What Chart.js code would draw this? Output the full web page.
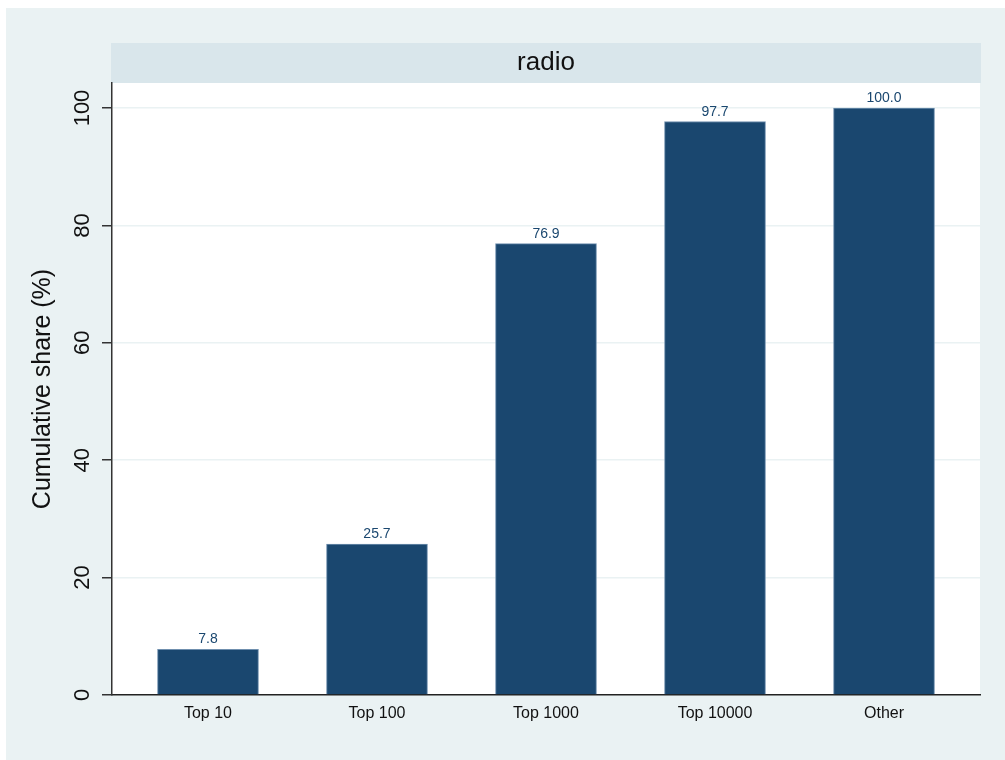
<!DOCTYPE html>
<html>
<head>
<meta charset="utf-8">
<script src="https://cdn.jsdelivr.net/npm/chart.js@4/dist/chart.umd.min.js"></script>
<style>
  html, body { margin: 0; padding: 0; background: #fff; }
  #wrap { width: 1005px; height: 760px; }
</style>
</head>
<body>
<div id="wrap"><canvas id="bars" width="1005" height="760"></canvas></div>
<script>
const categories = ['Top 10', 'Top 100', 'Top 1000', 'Top 10000', 'Other'];
const shares = [7.8, 25.7, 76.9, 97.7, 100.0];
const yTicks = [0, 20, 40, 60, 80, 100];
const panelTitle = 'radio';
const yTitle = 'Cumulative share (%)';

const FONT = '"Liberation Sans", Arial, Helvetica, sans-serif';
const BAR = '#1a476f';

// stata-ish backdrop, title strip, rotated y labels and bar values
const stataLook = {
    id: 'stataLook',
    beforeDraw(chart) {
        const ctx = chart.ctx;
        const a = chart.chartArea;
        ctx.save();
        ctx.fillStyle = '#ffffff';
        ctx.fillRect(0, 0, chart.width, chart.height);
        ctx.fillStyle = '#eaf2f3';
        ctx.fillRect(6, 8, chart.width - 6, chart.height - 8);
        ctx.fillStyle = '#ffffff';
        ctx.fillRect(a.left, a.top, a.right - a.left, a.bottom - a.top);
        ctx.fillStyle = '#d9e6eb';
        ctx.fillRect(a.left - 1, 43, a.right - a.left + 2, a.top - 43);
        ctx.restore();
    },
    afterDraw(chart) {
        const ctx = chart.ctx;
        const a = chart.chartArea;
        const y = chart.scales.y;
        ctx.save();
        // panel title
        ctx.fillStyle = '#111';
        ctx.font = '26px ' + FONT;
        ctx.textAlign = 'center';
        ctx.textBaseline = 'middle';
        ctx.fillText(panelTitle, (a.left + a.right) / 2, 63);

        // y tick labels, rotated
        ctx.font = '22px ' + FONT;
        yTicks.forEach(v => {
            ctx.save();
            ctx.translate(83, y.getPixelForValue(v));
            ctx.rotate(-Math.PI / 2);
            ctx.fillText(String(v), 0, 0);
            ctx.restore();
        });

        // y axis title
        ctx.font = '25px ' + FONT;
        ctx.save();
        ctx.translate(43, (a.top + a.bottom) / 2);
        ctx.rotate(-Math.PI / 2);
        ctx.fillText(yTitle, 0, 0);
        ctx.restore();

        // value labels above bars
        ctx.font = '14px ' + FONT;
        ctx.fillStyle = BAR;
        ctx.textBaseline = 'alphabetic';
        const meta = chart.getDatasetMeta(0);
        meta.data.forEach((bar, i) => {
            ctx.fillText(shares[i].toFixed(1), bar.x, bar.y - 6);
        });
        ctx.restore();
    }
};

const ctx = document.getElementById('bars').getContext('2d');
new Chart(ctx, {
    type: 'bar',
    data: {
        datasets: [{
            data: shares.map((v, i) => ({ x: i, y: v })),
            backgroundColor: BAR,
            borderColor: '#6f8fae',
            borderWidth: 1,
            borderSkipped: 'bottom',
            barThickness: 101
        }]
    },
    options: {
        responsive: false,
        animation: false,
        layout: { padding: { left: 0, top: 83, right: 25, bottom: 0 } },
        plugins: {
            legend: { display: false },
            tooltip: { enabled: false }
        },
        scales: {
            x: {
                type: 'linear',
                offset: false,
                min: -0.568,
                max: 4.568,
                afterFit: s => { s.height = 65; },
                grid: { display: false, drawTicks: false, offset: false },
                border: { display: true, color: '#222', width: 1.5 },
                ticks: {
                    stepSize: 1,
                    includeBounds: false,
                    autoSkip: false,
                    maxRotation: 0,
                    padding: 9,
                    color: '#111',
                    font: { family: FONT, size: 16 },
                    callback: v => categories[v] || ''
                }
            },
            y: {
                min: 0,
                max: 104.26,
                afterFit: s => { s.width = 112; },
                grid: {
                    color: c => (c.tick && c.tick.value === 0) ? 'rgba(0,0,0,0)' : '#eaf2f3',
                    lineWidth: 1.5,
                    drawTicks: true,
                    tickLength: 10,
                    tickColor: '#333',
                    tickWidth: 1.5
                },
                border: { display: true, color: '#333', width: 1.5 },
                ticks: {
                    display: false,
                    stepSize: 20,
                    includeBounds: false
                }
            }
        }
    },
    plugins: [stataLook]
});
</script>
</body>
</html>
